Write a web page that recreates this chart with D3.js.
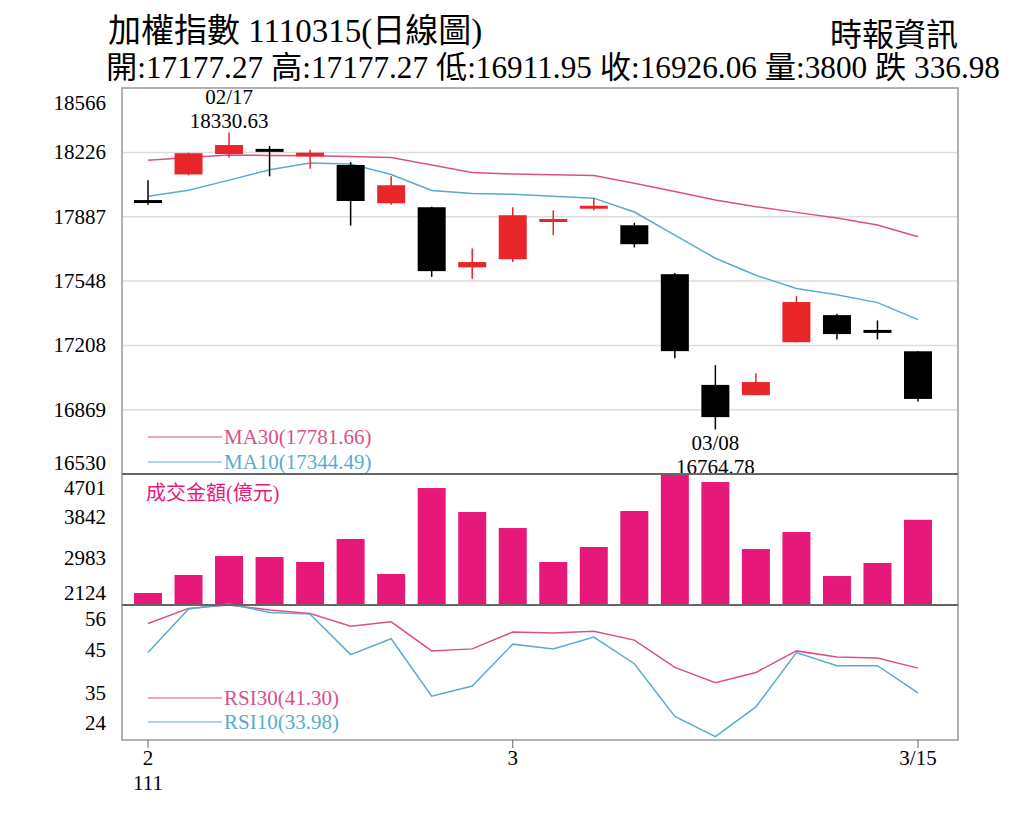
<!DOCTYPE html>
<html lang="zh-Hant">
<head>
<meta charset="UTF-8">
<title>加權指數 日線圖</title>
<script src="https://d3js.org/d3.v7.min.js"></script>
<style>
  body { margin: 0; background: #fff; }
  svg { font-family: 'Liberation Serif', 'Noto Sans CJK TC', serif; }
</style>
</head>
<body>
<svg width="1024" height="820"></svg>
<script>
// trading days 02/15 .. 03/15 (ROC year 111)
const dates = ['02/15','02/16','02/17','02/18','02/21','02/22','02/23','02/24','02/25','03/01',
               '03/02','03/03','03/04','03/07','03/08','03/09','03/10','03/11','03/14','03/15'];
const opens  = [17975,18110,18218,18245,18205,18160,17958,17937,17620,17663,17870,17940,17842,17584,17000,16946,17225,17368,17290,17177.27];
const highs  = [18080,18225,18330.63,18260,18240,18175,18100,17940,17720,17937,17920,17985,17855,17590,17104,17062,17468,17375,17340,17177.27];
const lows   = [17950,18105,18200,18100,18140,17840,17950,17570,17560,17648,17790,17920,17725,17141,16764.78,16946,17225,17240,17240,16911.95];
const closes = [17960,18222,18265,18230,18225,17970,18053,17600,17648,17895,17875,17945,17742,17178,16830,17015,17437,17268,17280,16926.06];
const ma30   = [18185,18200,18212,18210,18208,18205,18200,18160,18120,18112,18108,18105,18064,18020,17975,17940,17910,17880,17843,17781.66];
const ma10   = [17995,18027,18080,18135,18170,18165,18110,18025,18010,18005,17995,17985,17912,17790,17668,17578,17508,17476,17434,17344.49];
const volume = [2360,2714,3088,3068,2970,3422,2734,4425,3953,3638,2970,3265,3973,4701,4543,3225,3560,2694,2950,3800];
const rsi30  = [54.5,59,60,58.5,57.5,53.7,55,46.4,47,52,51.7,52.2,49.6,41.5,37,40,46.4,44.6,44.3,41.30];
const rsi10  = [45.9,58.8,60.3,57.8,57.3,45.3,50,33,36,48.4,47,50.5,42.6,27,21,29.8,45.9,42,42,33.98];
const priceTicks = [18566,18226,17887,17548,17208,16869,16530];
const volTicks = [4701,3842,2983,2124];
const rsiTicks = [56,45,35,24];

const svg = d3.select('svg');
const L = 122, R = 958;
const red = '#e8262a', pink = '#e6197a', maPink = '#d9508a', blue = '#5aaccc';

const x = d3.scalePoint().domain(d3.range(dates.length)).range([148, 918]);
const yP = d3.scaleLinear().domain([16530, 18566]).range([474, 88]);
const yV = d3.scaleLinear().domain([2124, 4701]).range([605, 474]);
const yR = d3.scaleLinear().domain([20, 60]).range([740, 605]);

// titles
svg.append('text').attr('x', 108).attr('y', 42).attr('font-size', 33).text('加權指數 1110315(日線圖)');
svg.append('text').attr('x', 958).attr('y', 46).attr('font-size', 32).attr('text-anchor', 'end').text('時報資訊');
svg.append('text').attr('x', 106).attr('y', 78).attr('font-size', 30.5)
  .attr('textLength', 894).attr('lengthAdjust', 'spacingAndGlyphs')
  .text('開:17177.27 高:17177.27 低:16911.95 收:16926.06 量:3800 跌 336.98');

// grid
svg.append('g').selectAll('line').data(priceTicks.slice(1, -1)).join('line')
  .attr('x1', L).attr('x2', R).attr('y1', d => yP(d)).attr('y2', d => yP(d))
  .attr('stroke', '#ddd').attr('stroke-width', 1.5);

// axis labels
svg.append('g').selectAll('text').data(priceTicks).join('text')
  .attr('x', 106).attr('text-anchor', 'end').attr('font-size', 21)
  .attr('y', (d, i) => i === 0 ? 110 : i === priceTicks.length - 1 ? 470 : yP(d) + 7).text(d => d);
svg.append('g').selectAll('text').data(volTicks).join('text')
  .attr('x', 106).attr('text-anchor', 'end').attr('font-size', 21)
  .attr('y', (d, i) => [495, 524, 565, 600][i]).text(d => d);
svg.append('g').selectAll('text').data(rsiTicks).join('text')
  .attr('x', 106).attr('text-anchor', 'end').attr('font-size', 21)
  .attr('y', (d, i) => [626, 657, 700, 730][i]).text(d => d);

// MA lines
const lineP = arr => d3.line().x((d, i) => x(i)).y(d => yP(d))(arr);
svg.append('path').attr('d', lineP(ma30)).attr('fill', 'none').attr('stroke', maPink).attr('stroke-width', 1.5);
svg.append('path').attr('d', lineP(ma10)).attr('fill', 'none').attr('stroke', blue).attr('stroke-width', 1.5);

// candles
const cw = 28;
const c = svg.append('g').selectAll('g').data(dates.map((d, i) => i)).join('g');
const col = i => closes[i] > opens[i] ? red : '#000';
c.append('line').attr('x1', i => x(i)).attr('x2', i => x(i))
  .attr('y1', i => yP(highs[i])).attr('y2', i => yP(lows[i]))
  .attr('stroke', i => col(i)).attr('stroke-width', 1.5);
c.append('rect').attr('x', i => x(i) - cw / 2).attr('width', cw)
  .attr('y', i => yP(Math.max(opens[i], closes[i])))
  .attr('height', i => Math.max(3, Math.abs(yP(opens[i]) - yP(closes[i]))))
  .attr('fill', i => col(i));

// annotations
const ann = (i, t1, t2, y1) => {
  svg.append('text').attr('x', x(i)).attr('y', y1).attr('text-anchor', 'middle').attr('font-size', 21).text(t1);
  svg.append('text').attr('x', x(i)).attr('y', y1 + 24).attr('text-anchor', 'middle').attr('font-size', 21).text(t2);
};
ann(2, dates[2], highs[2].toFixed(2), 104);
ann(14, dates[14], lows[14].toFixed(2), 450);

// legends
const leg = (y, color, t) => {
  svg.append('line').attr('x1', 148).attr('x2', 222).attr('y1', y).attr('y2', y).attr('stroke', color).attr('stroke-width', 1.2);
  svg.append('text').attr('x', 224).attr('y', y + 7).attr('font-size', 21).attr('fill', color).text(t);
};
leg(437, maPink, 'MA30(17781.66)');
leg(462, blue, 'MA10(17344.49)');

// volume
svg.append('g').selectAll('rect').data(volume).join('rect')
  .attr('x', (d, i) => x(i) - cw / 2).attr('width', cw)
  .attr('y', d => yV(d)).attr('height', d => 605 - yV(d)).attr('fill', pink);
svg.append('text').attr('x', 146).attr('y', 500).attr('font-size', 20).attr('fill', pink).text('成交金額(億元)');

// RSI
const lineR = arr => d3.line().x((d, i) => x(i)).y(d => yR(d))(arr);
svg.append('path').attr('d', lineR(rsi30)).attr('fill', 'none').attr('stroke', maPink).attr('stroke-width', 1.5);
svg.append('path').attr('d', lineR(rsi10)).attr('fill', 'none').attr('stroke', blue).attr('stroke-width', 1.5);
leg(698, maPink, 'RSI30(41.30)');
leg(722, blue, 'RSI10(33.98)');

// frame & separators
svg.append('rect').attr('x', L).attr('y', 88).attr('width', R - L).attr('height', 652)
  .attr('fill', 'none').attr('stroke', '#999').attr('stroke-width', 1.5);
[474, 605].forEach(y => svg.append('line').attr('x1', L).attr('x2', R).attr('y1', y).attr('y2', y)
  .attr('stroke', '#666').attr('stroke-width', 2));

// x axis
const xt = [[0, '2'], [9, '3'], [19, '3/15']];
xt.forEach(([i, t]) => {
  svg.append('line').attr('x1', x(i)).attr('x2', x(i)).attr('y1', 740).attr('y2', 748).attr('stroke', '#666');
  svg.append('text').attr('x', x(i)).attr('y', 765).attr('text-anchor', 'middle').attr('font-size', 21).text(t);
});
svg.append('text').attr('x', x(0)).attr('y', 790).attr('text-anchor', 'middle').attr('font-size', 21).text('111');
</script>
</body>
</html>
